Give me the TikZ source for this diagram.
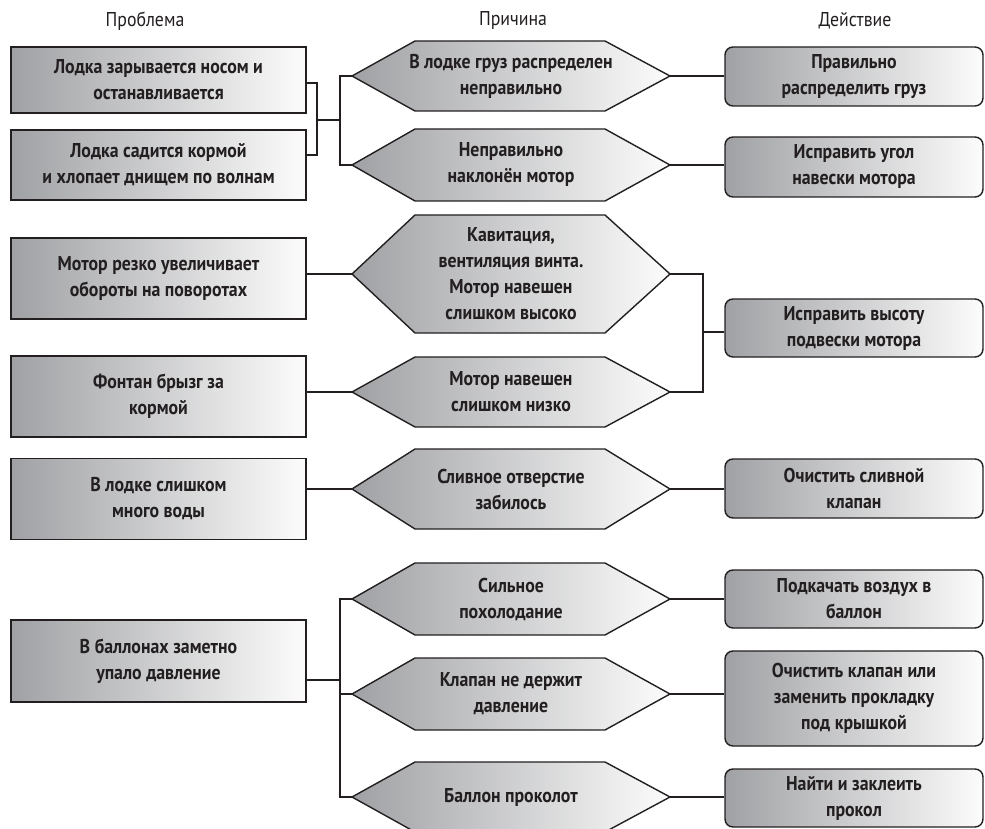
\documentclass[tikz,border=0pt]{standalone}
\usepackage{fontspec}
\setmainfont{PT Sans}[FakeStretch=0.89]
\definecolor{ink}{RGB}{35,31,32}
\definecolor{shL}{RGB}{160,161,164}
\definecolor{shR}{RGB}{252,252,252}
\tikzset{
  txt/.style={align=center, text=ink, font=\bfseries\fontsize{20}{26}\selectfont},
  lbox/.style={txt, draw=ink, line width=1.4pt, left color=shL, right color=shR,
               minimum width=295pt, inner sep=0pt},
  rbox/.style={lbox, rounded corners=8pt, minimum width=258pt},
  hexshape/.style={draw=ink, line width=1.4pt, left color=shL, right color=shR, line join=miter},
  hextext/.style={txt, inner sep=0pt, minimum width=318pt},
  conn/.style={draw=ink, line width=1.3pt},
  head/.style={text=ink, font=\fontsize{20}{22}\selectfont}
}
\newcommand\hexnode[5]{%
  \path[hexshape] (#2-159,#3) -- (#2-96,#3-#4) -- (#2+94,#3-#4) -- (#2+159,#3)
     -- (#2+94,#3+#4) -- (#2-96,#3+#4) -- cycle;
  \node[hextext, minimum height={2*#4}] (#1) at (#2,#3) {#5};}
\begin{document}
\begin{tikzpicture}[x=1pt,y=-1pt]
\useasboundingbox[fill=white] (0,0) rectangle (985,829);

% headers
\node[head] (hp) at (145,21) {Проблема};
\node[head] (hc) at (513,21) {Причина};
\node[head] (hd) at (855,21) {Действие};

% problems
\node[lbox, minimum height=66pt] (l1) at (158.5,80) {Лодка зарывается носом и\\останавливается};
\node[lbox, minimum height=70pt] (l2) at (158.5,165) {Лодка садится кормой\\и хлопает днищем по волнам};
\node[lbox, minimum height=81pt] (l3) at (158.5,278.5) {Мотор резко увеличивает\\обороты на поворотах};
\node[lbox, minimum height=81pt] (l4) at (158.5,396.5) {Фонтан брызг за\\кормой};
\node[lbox, minimum height=81pt] (l5) at (158.5,499) {В лодке слишком\\много воды};
\node[lbox, minimum height=82pt] (l6) at (158.5,661) {В баллонах заметно\\упало давление};

% causes
\hexnode{h1}{511}{76}{35}{В лодке груз распределен\\неправильно}
\hexnode{h2}{511}{165}{36}{Неправильно\\наклонён мотор}
\hexnode{h3}{511}{274}{59}{Кавитация,\\вентиляция винта.\\Мотор навешен\\слишком высоко}
\hexnode{h4}{511}{392}{35}{Мотор навешен\\слишком низко}
\hexnode{h5}{511}{489}{40}{Сливное отверстие\\забилось}
\hexnode{h6}{511}{599}{36}{Сильное\\похолодание}
\hexnode{h7}{511}{694}{36}{Клапан не держит\\давление}
\hexnode{h8}{511}{797}{35}{Баллон проколот}

% actions
\node[rbox, minimum height=59pt] (r1) at (854,76.5) {Правильно\\распределить груз};
\node[rbox, minimum height=60pt] (r2) at (854,167) {Исправить угол\\навески мотора};
\node[rbox, minimum height=58pt] (r3) at (854,328) {Исправить высоту\\подвески мотора};
\node[rbox, minimum height=59pt] (r5) at (854,488.5) {Очистить сливной\\клапан};
\node[rbox, minimum height=58pt] (r6) at (854,599) {Подкачать воздух в\\баллон};
\node[rbox, minimum height=95pt] (r7) at (854,698.5) {Очистить клапан или\\заменить прокладку\\под крышкой};
\node[rbox, minimum height=58pt] (r8) at (854,798) {Найти и заклеить\\прокол};

% junction coordinates
\coordinate (a1) at (317,83);
\coordinate (a2) at (317,155);
\coordinate (am) at (317,120);
\coordinate (bm) at (340,120);
\coordinate (c3) at (703,332);
\coordinate (d6) at (340,680);

% section 1
\draw[conn] (l1.east |- a1) -- (a1) -- (a2) -- (l2.east |- a2);
\draw[conn] (am) -- (bm);
\draw[conn] (h1.west) -- (h1.west -| bm) -- (h2.west -| bm) -- (h2.west);
\draw[conn] (h1.east) -- (h1.east -| r1.west);
\draw[conn] (h2.east) -- (h2.east -| r2.west);

% section 2
\draw[conn] (h3.west) -- (h3.west -| l3.east);
\draw[conn] (h4.west) -- (h4.west -| l4.east);
\draw[conn] (h3.east) -- (h3.east -| c3) -- (h4.east -| c3) -- (h4.east);
\draw[conn] (c3) -- (c3 -| r3.west);

% section 3
\draw[conn] (h5.west) -- (h5.west -| l5.east);
\draw[conn] (h5.east) -- (h5.east -| r5.west);

% section 4
\draw[conn] (d6) -- (d6 -| l6.east);
\draw[conn] (h6.west) -- (h6.west -| d6) -- (h8.west -| d6) -- (h8.west);
\draw[conn] (h7.west) -- (h7.west -| d6);
\draw[conn] (h6.east) -- (h6.east -| r6.west);
\draw[conn] (h7.east) -- (h7.east -| r7.west);
\draw[conn] (h8.east) -- (h8.east -| r8.west);
\end{tikzpicture}
\end{document}
